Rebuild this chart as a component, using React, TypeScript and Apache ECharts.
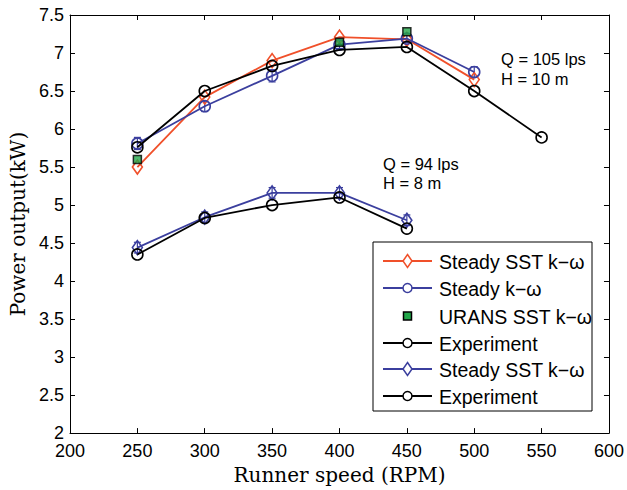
import React, { useEffect, useRef } from "react";
import * as echarts from "echarts";

const speeds105 = [250, 300, 350, 400, 450, 500];
const steadySST105 = [5.5, 6.42, 6.9, 7.21, 7.18, 6.65];
const steadyKW105 = [5.81, 6.3, 6.7, 7.11, 7.19, 6.75];
const steadyKW105Err = [0.08, 0.07, 0.08, 0.05, 0.05, 0.07];
const uransSpeeds = [250, 400, 450];
const urans105 = [5.6, 7.14, 7.28];
const expSpeeds105 = [250, 300, 350, 400, 450, 500, 550];
const exp105 = [5.76, 6.5, 6.83, 7.04, 7.08, 6.5, 5.89];
const speeds94 = [250, 300, 350, 400, 450];
const steadySST94 = [4.44, 4.84, 5.16, 5.16, 4.8];
const steadySST94Err = [0.07, 0.07, 0.07, 0.07, 0.07];
const exp94 = [4.35, 4.83, 5.0, 5.1, 4.69];

const legendLabels = [
  "Steady SST k\u2212\u03c9",
  "Steady k\u2212\u03c9",
  "URANS SST k\u2212\u03c9",
  "Experiment",
  "Steady SST k\u2212\u03c9",
  "Experiment",
];

const ORANGE = "#f0502a";
const BLUE = "#3b3f9e";
const GREEN = "#22a84a";
const BLACK = "#000000";

const pairs = (xs: number[], ys: number[]) => xs.map((x, i) => [x, ys[i]]);
const triples = (xs: number[], ys: number[], es: number[]) =>
  xs.map((x, i) => [x, ys[i], es[i]]);

function errorRender(color: string) {
  return (params: any, api: any) => {
    const x = api.value(0);
    const y = api.value(1);
    const e = api.value(2);
    const top = api.coord([x, y + e]);
    const bot = api.coord([x, y - e]);
    const hw = 3.5;
    const style = { stroke: color, lineWidth: 1.2 };
    return {
      type: "group",
      children: [
        { type: "line", shape: { x1: top[0], y1: top[1], x2: bot[0], y2: bot[1] }, style },
        { type: "line", shape: { x1: top[0] - hw, y1: top[1], x2: top[0] + hw, y2: top[1] }, style },
        { type: "line", shape: { x1: bot[0] - hw, y1: bot[1], x2: bot[0] + hw, y2: bot[1] }, style },
      ],
    };
  };
}

export default function App() {
  const ref = useRef<HTMLDivElement>(null);
  useEffect(() => {
    if (!ref.current) return;
    const chart = echarts.init(ref.current, undefined, { renderer: "svg" });
    const tickFont = { fontFamily: "Liberation Sans", fontSize: 18, color: "#000" };
    const axisCommon = {
      axisLine: { show: true, lineStyle: { color: "#000", width: 1 } },
      axisTick: { show: true, inside: true, length: 5, lineStyle: { color: "#000" } },
      splitLine: { show: false },
    };
    const hollow = (color: string) => ({
      color: "rgba(255,255,255,0)",
      borderColor: color,
      borderWidth: 1.6,
    });

    const legendX0 = 383;
    const legendX1 = 432;
    const legendRows = [261, 288, 316, 343, 369, 396];
    const legendGraphics: any[] = [
      {
        type: "rect",
        shape: { x: 373, y: 242, width: 219, height: 169 },
        style: { fill: "#fff", stroke: "#000", lineWidth: 1 },
        z: 100,
      },
    ];
    const legendStyles = [
      { line: ORANGE, marker: "diamond", mc: ORANGE },
      { line: BLUE, marker: "circle", mc: BLUE },
      { line: null, marker: "square", mc: BLACK },
      { line: BLACK, marker: "circle", mc: BLACK },
      { line: BLUE, marker: "diamond", mc: BLUE },
      { line: BLACK, marker: "circle", mc: BLACK },
    ];
    legendRows.forEach((y, i) => {
      const s = legendStyles[i];
      const cx = (legendX0 + legendX1) / 2;
      if (s.line) {
        legendGraphics.push({
          type: "line",
          shape: { x1: legendX0, y1: y, x2: legendX1, y2: y },
          style: { stroke: s.line, lineWidth: 2 },
          z: 101,
        });
      }
      if (s.marker === "circle") {
        legendGraphics.push({
          type: "circle",
          shape: { cx, cy: y, r: 4.5 },
          style: { fill: "#fff", stroke: s.mc, lineWidth: 1.5 },
          z: 102,
        });
      } else if (s.marker === "diamond") {
        legendGraphics.push({
          type: "polygon",
          shape: { points: [[cx, y - 6.5], [cx + 4.5, y], [cx, y + 6.5], [cx - 4.5, y]] },
          style: { fill: "#fff", stroke: s.mc, lineWidth: 1.5 },
          z: 102,
        });
      } else {
        legendGraphics.push({
          type: "rect",
          shape: { x: cx - 4, y: y - 4, width: 8, height: 8 },
          style: { fill: GREEN, stroke: BLACK, lineWidth: 1.5 },
          z: 102,
        });
      }
      legendGraphics.push({
        type: "text",
        x: 439,
        y: y + 1,
        style: {
          text: legendLabels[i],
          fontFamily: "Liberation Sans",
          fontSize: 19.5,
          fill: "#000",
          verticalAlign: "middle",
          align: "left",
        },
        z: 102,
      });
    });

    const annotFont = { fontFamily: "Liberation Sans", fontSize: 16.5, fill: "#000" };
    const annots = [
      { x: 501, y: 59, text: "Q = 105 lps" },
      { x: 501, y: 79, text: "H = 10 m" },
      { x: 383, y: 164, text: "Q = 94 lps" },
      { x: 383, y: 183, text: "H = 8 m" },
    ].map((a) => ({
      type: "text",
      x: a.x,
      y: a.y,
      style: { ...annotFont, text: a.text, verticalAlign: "middle", align: "left" },
      z: 50,
    }));

    chart.setOption({
      animation: false,
      backgroundColor: "#fff",
      grid: { left: 70, top: 15, width: 540, height: 421, containLabel: false },
      xAxis: [
        {
          type: "value",
          min: 200,
          max: 600,
          interval: 50,
          ...axisCommon,
          axisLabel: { ...tickFont, margin: 9 },
          name: "Runner speed (RPM)",
          nameLocation: "middle",
          nameGap: 28,
          nameTextStyle: { fontFamily: "DejaVu Serif", fontSize: 20, color: "#000" },
        },
        {
          type: "value",
          position: "top",
          min: 200,
          max: 600,
          interval: 50,
          ...axisCommon,
          axisLabel: { show: false },
        },
      ],
      yAxis: [
        {
          type: "value",
          min: 2,
          max: 7.5,
          interval: 0.5,
          ...axisCommon,
          axisLabel: { ...tickFont, margin: 6 },
          name: "Power output(kW)",
          nameLocation: "middle",
          nameGap: 42,
          nameRotate: 90,
          nameTextStyle: { fontFamily: "DejaVu Serif", fontSize: 20, color: "#000" },
        },
        {
          type: "value",
          position: "right",
          min: 2,
          max: 7.5,
          interval: 0.5,
          ...axisCommon,
          axisLabel: { show: false },
        },
      ],
      graphic: [...annots, ...legendGraphics],
      series: [
        {
          type: "custom",
          name: "errKW105",
          renderItem: errorRender(BLUE),
          data: triples(speeds105, steadyKW105, steadyKW105Err),
          z: 1,
        },
        {
          type: "custom",
          name: "errSST94",
          renderItem: errorRender(BLUE),
          data: triples(speeds94, steadySST94, steadySST94Err),
          z: 1,
        },
        {
          type: "line",
          name: "Steady SST k-w 105",
          data: pairs(speeds105, steadySST105),
          symbol: "diamond",
          symbolSize: [10, 14],
          lineStyle: { color: ORANGE, width: 1.8 },
          itemStyle: hollow(ORANGE),
          z: 2,
        },
        {
          type: "line",
          name: "Steady k-w 105",
          data: pairs(speeds105, steadyKW105),
          symbol: "circle",
          symbolSize: 11,
          lineStyle: { color: BLUE, width: 1.8 },
          itemStyle: hollow(BLUE),
          z: 3,
        },
        {
          type: "line",
          name: "Experiment 105",
          data: pairs(expSpeeds105, exp105),
          symbol: "circle",
          symbolSize: 11,
          lineStyle: { color: BLACK, width: 1.8 },
          itemStyle: hollow(BLACK),
          z: 4,
        },
        {
          type: "scatter",
          name: "URANS 105",
          data: pairs(uransSpeeds, urans105),
          symbol: "rect",
          symbolSize: 8,
          itemStyle: { color: GREEN, borderColor: BLACK, borderWidth: 1.5 },
          z: 5,
        },
        {
          type: "line",
          name: "Steady SST k-w 94",
          data: pairs(speeds94, steadySST94),
          symbol: "diamond",
          symbolSize: [10, 14],
          lineStyle: { color: BLUE, width: 1.8 },
          itemStyle: hollow(BLUE),
          z: 3,
        },
        {
          type: "line",
          name: "Experiment 94",
          data: pairs(speeds94, exp94),
          symbol: "circle",
          symbolSize: 11,
          lineStyle: { color: BLACK, width: 1.8 },
          itemStyle: hollow(BLACK),
          z: 4,
        },
      ],
    });
    return () => chart.dispose();
  }, []);
  return (
    <div
      ref={ref}
      style={{ position: "fixed", left: 0, top: 0, width: 627, height: 490, background: "#fff" }}
    />
  );
}
